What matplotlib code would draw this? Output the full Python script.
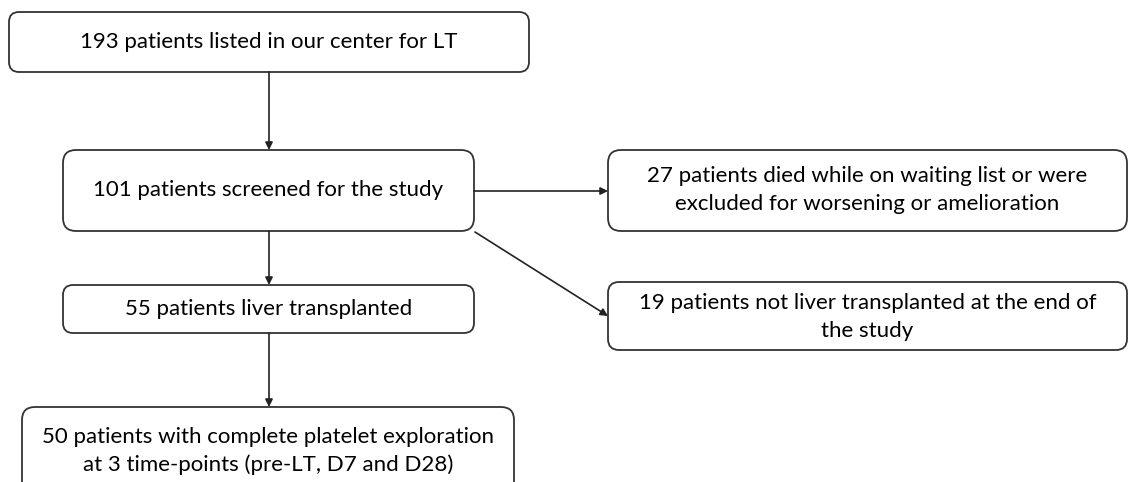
import matplotlib
matplotlib.use("Agg")
import matplotlib.pyplot as plt
from matplotlib.patches import FancyBboxPatch

plt.rcParams['font.family'] = ['Lato', 'DejaVu Sans']

# flowchart content
labels = [
    "193 patients listed in our center for LT",
    "101 patients screened for the study",
    "55 patients liver transplanted",
    "50 patients with complete platelet exploration\nat 3 time-points (pre-LT, D7 and D28)",
    "27 patients died while on waiting list or were\nexcluded for worsening or amelioration",
    "19 patients not liver transplanted at the end of\nthe study",
]
# links between boxes (from, to)
links = [(0, 1), (1, 2), (2, 3), (1, 4), (1, 5)]

# layout in pixels: left, top, right, bottom, corner radius
boxes = [
    (9, 12, 529, 72, 10),
    (63, 150, 474, 231, 13),
    (63, 285, 474, 333, 10),
    (22, 407, 514, 500, 13),
    (608, 150, 1127, 231, 13),
    (608, 282, 1127, 350, 11),
]
# arrow start and end points in pixels
arrow_pts = [
    ((269, 72), (269, 150)),
    ((269, 231), (269, 285)),
    ((269, 333), (269, 407)),
    ((474, 191), (608, 191)),
    ((475, 232), (608, 316)),
]
text_y = [42, 190, 309, 451, 190, 317]

W, H = 1131, 482
fig = plt.figure(figsize=(W / 100, H / 100), dpi=100)
ax = fig.add_axes([0, 0, 1, 1])
ax.set_xlim(0, W)
ax.set_ylim(H, 0)
ax.axis('off')

edge = '#333333'
for (l, t, r, b, rad), lab, ty in zip(boxes, labels, text_y):
    ax.add_patch(FancyBboxPatch((l, t), r - l, b - t,
                                boxstyle=f"round,pad=0,rounding_size={rad}",
                                fc='white', ec=edge, lw=1.3))
    ax.text((l + r) / 2, ty, lab, ha='center', va='center',
            fontsize=16, color='black', linespacing=1.5)

for (a, b), (p0, p1) in zip(links, arrow_pts):
    ax.annotate('', xy=p1, xytext=p0,
                arrowprops=dict(arrowstyle='-|>', lw=1.2, color='#222222',
                                mutation_scale=11, shrinkA=0, shrinkB=0))

fig.savefig('out.png', dpi=100)
